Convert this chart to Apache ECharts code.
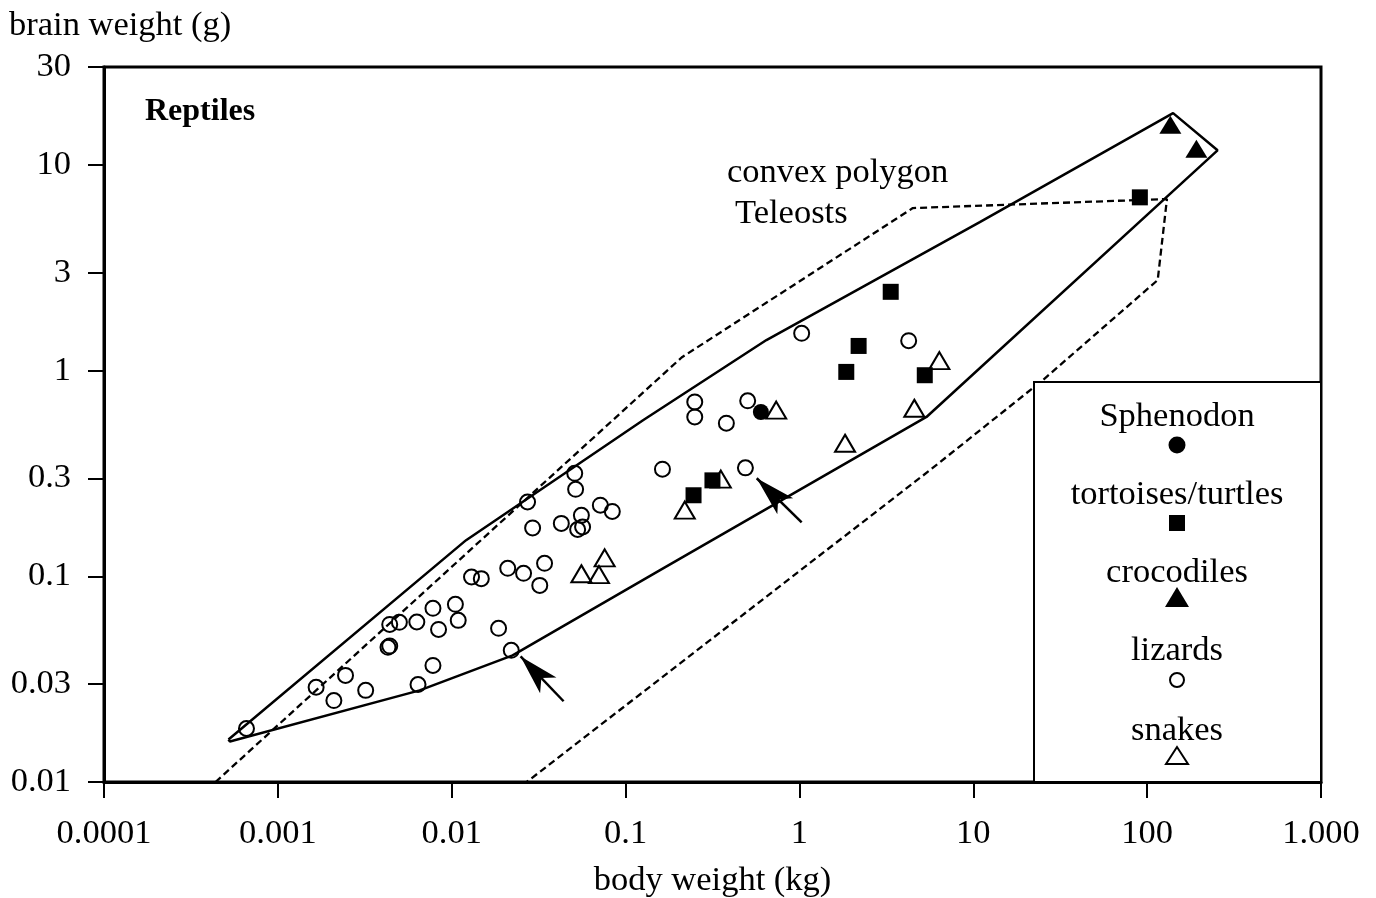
<!DOCTYPE html>
<html>
<head>
<meta charset="utf-8">
<script src="https://cdn.jsdelivr.net/npm/echarts@6/dist/echarts.min.js"></script>
<style>
    html, body {margin: 0; padding: 0; background: #fff;}
    #chart {width: 1376px; height: 898px;}
</style>
</head>
<body>
<div id="chart"></div>
<script>
    // tick values and their printed labels
    var xTicks = [0.0001, 0.001, 0.01, 0.1, 1, 10, 100, 1000];
    var xTickLabels = ['0.0001', '0.001', '0.01', '0.1', '1', '10', '100', '1.000'];
    var yTicks = [0.01, 0.03, 0.1, 0.3, 1, 3, 10, 30];
    var yTickLabels = ['0.01', '0.03', '0.1', '0.3', '1', '3', '10', '30'];

    // [body weight (kg), brain weight (g)]
    var lizards = [
        [0.00066, 0.0182], [0.00166, 0.0289], [0.0021, 0.0249], [0.00245, 0.033], [0.0032, 0.0279],
        [0.0044, 0.0584], [0.0050, 0.0598], [0.0043, 0.0452], [0.0044, 0.0458], [0.0063, 0.0600],
        [0.0078, 0.0699], [0.0084, 0.0552], [0.0078, 0.0369], [0.0064, 0.0298], [0.0105, 0.0731],
        [0.0109, 0.0611], [0.0130, 0.0993], [0.0148, 0.0975], [0.0210, 0.1094], [0.0259, 0.1035],
        [0.0321, 0.0904], [0.0342, 0.1157], [0.0186, 0.0559], [0.0220, 0.0437], [0.0273, 0.230],
        [0.0292, 0.172], [0.0427, 0.181], [0.0510, 0.317], [0.0516, 0.265], [0.0557, 0.198],
        [0.0530, 0.169], [0.0566, 0.174], [0.0716, 0.222], [0.0839, 0.207], [0.163, 0.332],
        [0.250, 0.705], [0.250, 0.596], [0.380, 0.556], [0.504, 0.714], [0.489, 0.337],
        [1.03, 1.52], [4.25, 1.40]
    ];
    var snakes = [
        [0.735, 0.643], [0.353, 0.297], [0.219, 0.210], [0.0758, 0.123], [0.0557, 0.103],
        [0.0703, 0.102], [6.38, 1.12], [4.58, 0.657], [1.83, 0.444]
    ];
    var turtles = [
        [0.316, 0.293], [0.246, 0.248], [3.35, 2.42], [2.19, 1.32], [1.86, 0.987], [5.26, 0.951], [90.8, 6.97]
    ];
    var sphenodon = [[0.60, 0.63]];
    var crocodiles = [[136, 15.7], [192, 12.0]];

    // outlines
    var reptilePolygon = [
        [0.00052, 0.0161], [0.0121, 0.150], [0.126, 0.574], [0.646, 1.41], [10.9, 5.28], [141, 17.9],
        [254, 11.8], [5.38, 0.596], [0.157, 0.107], [0.0224, 0.0413], [0.00654, 0.0279],
        [0.00053, 0.01575], [0.00052, 0.0161]
    ];
    var teleostPolygon = [
        [0.000438, 0.01], [0.210, 1.16], [4.49, 6.18], [130, 6.84], [115, 2.76], [25.1, 0.90],
        [5.62, 0.328], [0.027, 0.01]
    ];
    // arrows: [from, to]
    var arrows = [
        [[0.044, 0.0247], [0.0249, 0.0408]],
        [[1.03, 0.183], [0.568, 0.300]]
    ];

    var legendNames = ['Sphenodon', 'tortoises/turtles', 'crocodiles', 'lizards', 'snakes'];

    var FONT = '"Liberation Serif", "Times New Roman", serif';
    var FS = 34.5;

    function nearestLabel(v, ticks, labels) {
        var best = 0, d = Infinity;
        for (var i = 0; i < ticks.length; i++) {
            var dd = Math.abs(Math.log10(v) - Math.log10(ticks[i]));
            if (dd < d) { d = dd; best = i; }
        }
        return labels[best];
    }

    var openStyle = {color: 'rgba(0,0,0,0)', borderColor: '#000', borderWidth: 2, opacity: 1};
    var fillStyle = {color: '#000', opacity: 1};

    var myChart = echarts.init(document.getElementById('chart'), null, {renderer: 'canvas'});

    // legend box content
    var legendY = [417, 495, 573, 651, 731];
    var graphics = [
        {type: 'text', left: 9, top: 8, style: {text: 'brain weight (g)', font: FS + 'px ' + FONT, fill: '#000'}},
        {type: 'text', left: 145, top: 96, style: {text: 'Reptiles', font: 'bold 32px ' + FONT, fill: '#000'}},
        {type: 'text', left: 727, top: 155, style: {text: 'convex polygon', font: FS + 'px ' + FONT, fill: '#000'}},
        {type: 'text', left: 735, top: 196, style: {text: 'Teleosts', font: FS + 'px ' + FONT, fill: '#000'}},
        {type: 'rect', shape: {x: 1034, y: 382, width: 287, height: 400},
            style: {fill: '#fff', stroke: '#000', lineWidth: 2}, z: 10},
        {type: 'circle', shape: {cx: 1177, cy: 445, r: 8.5}, style: {fill: '#000'}, z: 11},
        {type: 'rect', shape: {x: 1169, y: 515, width: 16, height: 16}, style: {fill: '#000'}, z: 11},
        {type: 'polygon', shape: {points: [[1177, 587], [1165, 607], [1189, 607]]}, style: {fill: '#000'}, z: 11},
        {type: 'circle', shape: {cx: 1177, cy: 680, r: 7}, style: {fill: 'none', stroke: '#000', lineWidth: 2}, z: 11},
        {type: 'polygon', shape: {points: [[1177, 747], [1166, 764], [1188, 764]]},
            style: {fill: 'none', stroke: '#000', lineWidth: 2}, z: 11}
    ];
    var legendText = legendNames.map(function (name, i) {
        return {type: 'text', x: 1177, y: legendY[i], z: 11,
            style: {text: name, font: FS + 'px ' + FONT, fill: '#000', align: 'center', verticalAlign: 'middle',
                textAlign: 'center', textVerticalAlign: 'middle'}};
    });
    graphics = graphics.concat(legendText);

    var option = {
        animation: false,
        backgroundColor: '#fff',
        grid: {
            left: 104, right: 55, top: 67, bottom: 116,
            outerBoundsMode: 'none',
            containLabel: false,
            show: true, borderColor: '#000', borderWidth: 3
        },
        xAxis: {
            type: 'log',
            logBase: 10,
            min: 0.0001,
            max: 1000,
            name: 'body weight (kg)',
            nameLocation: 'middle',
            nameGap: 81,
            nameTextStyle: {fontFamily: FONT, fontSize: FS, color: '#000'},
            axisLine: {lineStyle: {color: '#000', width: 3}},
            axisTick: {length: 16, lineStyle: {color: '#000', width: 2}},
            axisLabel: {
                margin: 34,
                fontFamily: FONT, fontSize: FS, color: '#000',
                formatter: function (v) { return nearestLabel(v, xTicks, xTickLabels); }
            },
            splitLine: {show: false},
            minorTick: {show: false}
        },
        yAxis: {
            type: 'log',
            logBase: 10,
            min: 0.01,
            max: 30,
            axisLine: {lineStyle: {color: '#000', width: 3}},
            axisTick: {length: 16, lineStyle: {color: '#000', width: 2}, customValues: yTicks},
            axisLabel: {
                margin: 33,
                fontFamily: FONT, fontSize: FS, color: '#000',
                customValues: yTicks,
                formatter: function (v) { return nearestLabel(v, yTicks, yTickLabels); }
            },
            splitLine: {show: false},
            minorTick: {show: false}
        },
        graphic: graphics,
        series: [
            {
                name: 'reptiles polygon', type: 'line', data: reptilePolygon, symbol: 'none',
                lineStyle: {color: '#000', width: 2.5}, z: 2,
                markLine: {
                    silent: true,
                    symbol: ['none', 'arrow'],
                    symbolSize: [17, 40],
                    label: {show: false},
                    lineStyle: {color: '#000', width: 2.5, type: 'solid', opacity: 1},
                    itemStyle: {color: '#000'},
                    data: arrows.map(function (a) { return [{coord: a[0]}, {coord: a[1]}]; })
                }
            },
            {
                name: 'convex polygon Teleosts', type: 'line', data: teleostPolygon, symbol: 'none',
                lineStyle: {color: '#000', width: 2.3, type: [7, 4]}, z: 2
            },
            {name: 'lizards', type: 'scatter', data: lizards, symbol: 'circle', symbolSize: 15, itemStyle: openStyle, z: 3},
            {name: 'snakes', type: 'scatter', data: snakes, symbol: 'triangle', symbolSize: [20, 17], itemStyle: openStyle, z: 3},
            {name: 'tortoises/turtles', type: 'scatter', data: turtles, symbol: 'rect', symbolSize: 16, itemStyle: fillStyle, z: 4},
            {name: 'Sphenodon', type: 'scatter', data: sphenodon, symbol: 'circle', symbolSize: 16, itemStyle: fillStyle, z: 4},
            {name: 'crocodiles', type: 'scatter', data: crocodiles, symbol: 'triangle', symbolSize: [22, 18], itemStyle: fillStyle, z: 4}
        ]
    };
    myChart.setOption(option);
</script>
</body>
</html>
